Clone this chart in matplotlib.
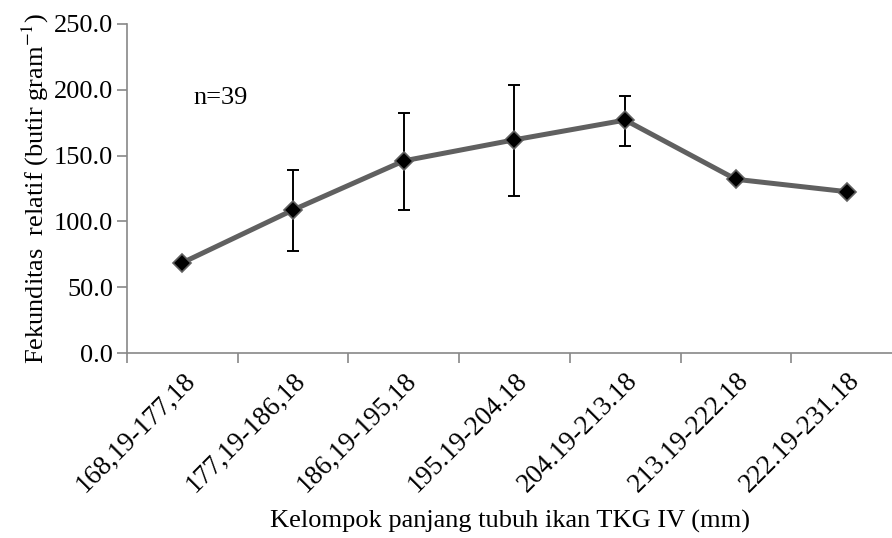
import numpy as np
import matplotlib.pyplot as plt
from matplotlib.ticker import FixedLocator, NullFormatter

plt.rcParams['font.family'] = ['Liberation Serif', 'DejaVu Serif']
plt.rcParams['mathtext.fontset'] = 'stix'

# data
categories = ['168,19-177,18', '177,19-186,18', '186,19-195,18', '195.19-204.18',
              '204.19-213.18', '213.19-222.18', '222.19-231.18']
fekunditas = [68.6, 108.7, 146.0, 162.0, 177.0, 132.0, 122.6]
err_upper = [0.0, 30.5, 36.0, 42.0, 18.5, 0.0, 0.0]
err_lower = [0.0, 31.5, 37.0, 42.5, 20.0, 0.0, 0.0]

x = np.arange(len(categories))

fig = plt.figure(figsize=(8.92, 5.38), dpi=100)
ax = fig.add_axes([127 / 892, 185 / 538, 1 - 127 / 892, (353 - 24) / 538])

ax.errorbar(x, fekunditas, yerr=[err_lower, err_upper], fmt='none',
            ecolor='black', elinewidth=1.4, capsize=4.5, capthick=1.4, zorder=2)
ax.plot(x, fekunditas, color='#606060', lw=3.6, marker='D', markersize=9,
        markerfacecolor='black', markeredgecolor='#606060', markeredgewidth=1.2, zorder=3)

ax.set_ylim(0, 250)
ax.set_yticks(np.arange(0, 251, 50))
ax.set_yticklabels(['%.1f' % v for v in np.arange(0, 251, 50)], fontsize=19)
ax.set_xlim(-0.5, 6.41)

ax.xaxis.set_major_locator(FixedLocator(np.arange(-0.5, 7.0, 1.0)))
ax.xaxis.set_major_formatter(NullFormatter())
ax.xaxis.set_minor_locator(FixedLocator(x))
ax.set_xticklabels(categories, minor=True, rotation=45, ha='right',
                   rotation_mode='anchor', fontsize=19.5)
ax.tick_params(axis='x', which='minor', length=0, pad=11)
ax.tick_params(axis='x', which='major', length=7, color='#888888', width=1.2)
ax.tick_params(axis='y', length=7, color='#888888', width=1.2, pad=3)

for s in ['top', 'right']:
    ax.spines[s].set_visible(False)
for s in ['left', 'bottom']:
    ax.spines[s].set_color('#888888')
    ax.spines[s].set_linewidth(1.2)

ax.set_ylabel('Fekunditas  relatif (butir gram$^{-1}$)', fontsize=19, labelpad=2)
ax.set_xlabel('Kelompok panjang tubuh ikan TKG IV (mm)', fontsize=19, labelpad=9)

ax.text(0.35, 194, 'n=39', fontsize=19, ha='center', va='center')

fig.savefig('out.png', dpi=100)
